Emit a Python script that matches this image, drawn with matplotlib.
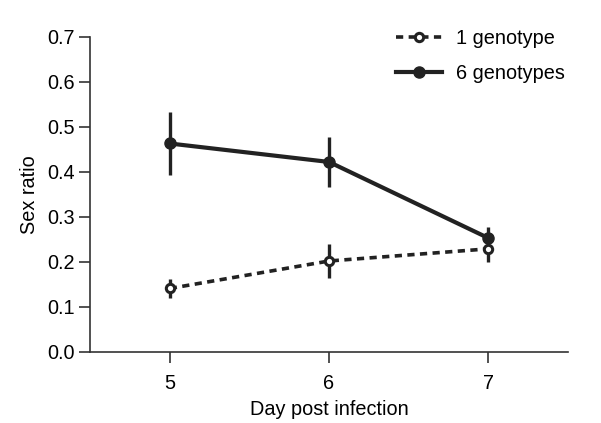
import matplotlib
matplotlib.use('Agg')
import matplotlib.pyplot as plt
from matplotlib.lines import Line2D

plt.rcParams['font.family'] = ['Liberation Sans', 'DejaVu Sans']

days = [5, 6, 7]
one_geno = [0.141, 0.202, 0.229]
one_lo = [0.120, 0.164, 0.200]
one_hi = [0.162, 0.240, 0.252]
six_geno = [0.463, 0.422, 0.253]
six_lo = [0.393, 0.367, 0.228]
six_hi = [0.533, 0.478, 0.278]

col = '#222222'
fs = 14.3

fig = plt.figure(figsize=(6.01, 4.23), dpi=100)
ax = fig.add_axes([0.15, 0.168, 0.795, 0.745])

err1 = [[m - l for m, l in zip(one_geno, one_lo)], [h - m for m, h in zip(one_geno, one_hi)]]
err6 = [[m - l for m, l in zip(six_geno, six_lo)], [h - m for m, h in zip(six_geno, six_hi)]]

dash = (0, (2.0, 1.5))
ax.errorbar(days, one_geno, yerr=err1, color=col, ls=dash, lw=2.6,
            marker='o', ms=6, mfc='white', mec=col, mew=2.2, elinewidth=2.4, capsize=0)
ax.errorbar(days, six_geno, yerr=err6, color=col, ls='-', lw=3,
            marker='o', ms=8, mfc=col, mec=col, elinewidth=2.4, capsize=0)

ax.set_xlim(4.5, 7.5)
ax.set_ylim(0, 0.7)
ax.set_xticks(days)
ax.set_yticks([0, 0.1, 0.2, 0.3, 0.4, 0.5, 0.6, 0.7])
ax.set_yticklabels(['0.0', '0.1', '0.2', '0.3', '0.4', '0.5', '0.6', '0.7'])
ax.spines['top'].set_visible(False)
ax.spines['right'].set_visible(False)
for s in ['left', 'bottom']:
    ax.spines[s].set_color('#333333')
    ax.spines[s].set_linewidth(1.2)
ax.tick_params(labelsize=fs, length=8, width=1.2, color='#333333', pad=3)
ax.tick_params(axis='x', pad=8)
ax.set_xlabel('Day post infection', fontsize=fs, labelpad=5)
ax.set_ylabel('Sex ratio', fontsize=fs, labelpad=6)

handles = [
    Line2D([], [], color=col, ls=dash, lw=2.6, marker='o', ms=6, mfc='white', mec=col, mew=2.2),
    Line2D([], [], color=col, ls='-', lw=3, marker='o', ms=8, mfc=col, mec=col),
]
ax.legend(handles, ['1 genotype', '6 genotypes'], loc='upper right',
          bbox_to_anchor=(1.031, 1.083), frameon=False, fontsize=fs,
          handlelength=2.3, handletextpad=0.7, labelspacing=0.85)

fig.savefig('out.png', dpi=100)
